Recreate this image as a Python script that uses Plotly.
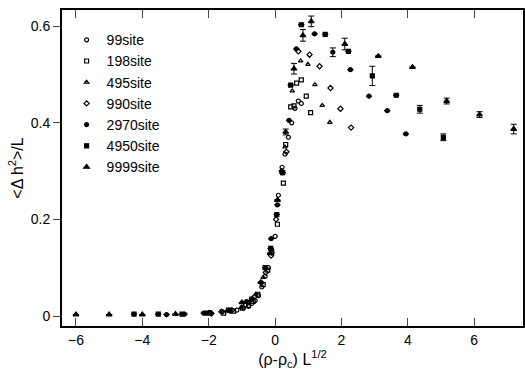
import plotly.graph_objects as go

# ---- data ----
s99_x = [0.79, 0.70, 0.60, 0.50, 0.40, 0.30, 0.21, 0.10, 0.00, -0.10, -0.20, -0.30, -0.40, -0.50, -0.60, -0.70, -0.80, -0.95, -1.15, -1.35, -1.59, -1.95]
s99_y = [0.44, 0.445, 0.43, 0.40, 0.37, 0.335, 0.308, 0.25, 0.165, 0.13, 0.10, 0.082, 0.06, 0.042, 0.032, 0.026, 0.02, 0.017, 0.012, 0.010, 0.009, 0.006]

s198_x = [1.07, 0.94, 0.79, 0.65, 0.57, 0.47, 0.32, 0.25, 0.07, -0.10, -0.22, -0.36, -0.52, -0.66, -0.80, -0.98, -1.25, -1.55]
s198_y = [0.421, 0.455, 0.489, 0.482, 0.435, 0.433, 0.355, 0.275, 0.19, 0.133, 0.095, 0.065, 0.045, 0.030, 0.022, 0.016, 0.010, 0.006]

s495_x = [1.65, 1.42, 1.20, 0.99, 0.77, 0.52, 0.30, 0.08, -0.14, -0.36, -0.58, -0.80, -1.02]
s495_y = [0.401, 0.436, 0.479, 0.521, 0.528, 0.466, 0.35, 0.24, 0.14, 0.08, 0.045, 0.028, 0.018]

s990_x = [2.29, 1.97, 1.67, 1.34, 1.04, 0.70, 0.34, 0.20, 0.03, -0.12, -0.28, -0.62, -0.90, -1.30, -1.62, -1.92]
s990_y = [0.39, 0.429, 0.472, 0.517, 0.541, 0.548, 0.34, 0.30, 0.20, 0.125, 0.09, 0.04, 0.022, 0.012, 0.009, 0.005]

s2970_x = [3.94, 3.38, 2.83, 2.27, 1.74, 1.19, 0.64, 0.42, 0.22, 0.07, -0.12, -0.42, -0.86, -1.40, -1.95, -2.15, -2.73, -3.27]
s2970_y = [0.377, 0.425, 0.455, 0.51, 0.546, 0.584, 0.553, 0.405, 0.296, 0.23, 0.16, 0.069, 0.03, 0.012, 0.007, 0.006, 0.004, 0.003]
s2970_e = [0, 0, 0, 0, 0.009, 0, 0, 0, 0, 0, 0, 0, 0, 0, 0, 0, 0, 0]

s4950_x = [5.07, 4.36, 3.65, 2.93, 2.21, 1.51, 0.79, 0.47, 0.23, 0.05, -0.13, -0.30, -0.70, -1.40, -2.05, -2.80, -3.52, -4.25]
s4950_y = [0.370, 0.428, 0.457, 0.497, 0.548, 0.583, 0.603, 0.478, 0.297, 0.21, 0.14, 0.10, 0.035, 0.012, 0.006, 0.004, 0.004, 0.004]
s4950_e = [0.007, 0.008, 0, 0.02, 0, 0, 0, 0, 0, 0, 0, 0, 0, 0, 0, 0, 0, 0]

s9999_x = [7.19, 6.16, 5.17, 4.14, 3.11, 2.10, 1.09, 0.84, 0.57, 0.32, 0.07, -0.15, -0.43, -1.0, -2.0, -3.0, -4.0, -5.0, -6.0]
s9999_y = [0.387, 0.417, 0.445, 0.515, 0.538, 0.563, 0.610, 0.581, 0.512, 0.381, 0.24, 0.13, 0.07, 0.028, 0.006, 0.004, 0.003, 0.003, 0.003]
s9999_e = [0.01, 0.006, 0.006, 0, 0, 0.012, 0.011, 0.012, 0.011, 0.006, 0, 0, 0, 0, 0, 0, 0, 0, 0]

x_ticks = [-6, -4, -2, 0, 2, 4, 6]
y_ticks = [0, 0.2, 0.4, 0.6]
y_tick_text = ["0", "0.2", "0.4", "0.6"]

FONT = "Liberation Sans, Arial, Helvetica, sans-serif"

series = [
    ("99site", s99_x, s99_y, None, "circle-open", 4),
    ("198site", s198_x, s198_y, None, "square-open", 4),
    ("495site", s495_x, s495_y, None, "triangle-up-open", 4),
    ("990site", s990_x, s990_y, None, "diamond-open", 4),
    ("2970site", s2970_x, s2970_y, s2970_e, "circle", 4),
    ("4950site", s4950_x, s4950_y, s4950_e, "square", 4),
    ("9999site", s9999_x, s9999_y, s9999_e, "triangle-up", 5),
]

fig = go.Figure()
for name, xs, ys, es, sym, sz in series:
    kw = {}
    if es is not None:
        kw["error_y"] = dict(type="data", array=es, visible=True, color="black", thickness=1, width=3)
    fig.add_trace(go.Scatter(
        x=xs, y=ys, mode="markers", name=name,
        marker=dict(symbol=sym, size=sz, color="black", line=dict(color="black", width=1.2)),
        **kw))

fig.update_layout(
    width=525, height=372,
    margin=dict(l=62, r=2, t=10, b=46),
    paper_bgcolor="white", plot_bgcolor="white",
    font=dict(family=FONT, size=14, color="black"),
    showlegend=True,
    legend=dict(x=0.01, y=0.955, xanchor="left", yanchor="top",
                bgcolor="rgba(0,0,0,0)", font=dict(family=FONT, size=14),
                tracegroupgap=0, itemsizing="trace"),
)
fig.update_xaxes(
    range=[-6.42, 7.47], tickvals=x_ticks, ticks="inside", ticklen=8, tickwidth=1.2,
    showline=True, linecolor="black", linewidth=2, mirror="ticks", showgrid=False, zeroline=False,
    automargin=False,
    title=dict(text="(ρ-ρ<sub>c</sub>) L<sup>1/2</sup>", font=dict(size=16), standoff=2),
    tickfont=dict(size=14),
)
fig.update_yaxes(
    range=[-0.0207, 0.6335], tickvals=y_ticks, ticktext=y_tick_text, ticks="outside", ticklen=7, tickwidth=1.2,
    showline=True, linecolor="black", linewidth=2, mirror=True, showgrid=False, zeroline=False,
    automargin=False,
    title=dict(text="<Δ h<sup>2</sup>>/L", font=dict(size=16), standoff=3),
    tickfont=dict(size=14),
)

fig.write_html("out.html", config={"displayModeBar": False},
               post_script="document.body.style.margin='0';")
